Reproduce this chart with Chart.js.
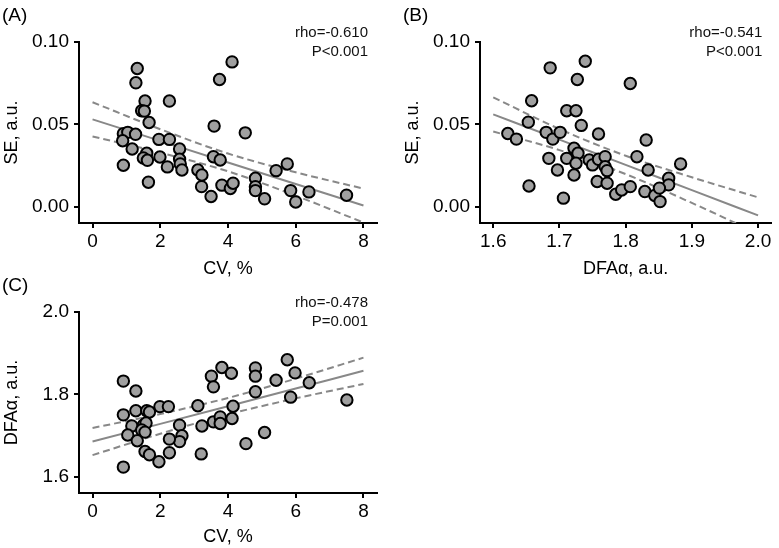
<!DOCTYPE html>
<html><head><meta charset="utf-8">
<script src="https://cdn.jsdelivr.net/npm/chart.js@4/dist/chart.umd.min.js"></script>
<style>
html,body{margin:0;padding:0;background:#fff;}
#wrap{position:relative;width:779px;height:548px;background:#fff;}
canvas{position:absolute;left:0;top:0;}
</style></head><body>
<div id="wrap">
<canvas id="cA" width="779" height="548" style="width:779px;height:548px"></canvas>
<canvas id="cB" width="779" height="548" style="width:779px;height:548px"></canvas>
<canvas id="cC" width="779" height="548" style="width:779px;height:548px"></canvas>
</div>
<script>
// ---- Panel A: SE vs CV ----
const cvA = [1.32,1.28,1.55,1.45,1.53,1.67,2.27,0.91,1.04,1.27,0.89,1.17,0.91,1.60,1.50,1.62,1.65,1.96,2.27,1.99,2.21,2.57,2.57,2.59,2.64,3.59,3.57,3.77,3.11,3.23,3.22,3.50,3.82,3.75,4.12,4.51,5.75,5.42,4.81,4.81,4.81,5.08,4.07,4.15,5.85,6.00,6.39,7.50];
const seA = [0.0839,0.0752,0.0641,0.0582,0.0580,0.0511,0.0641,0.0443,0.0451,0.0439,0.0400,0.0350,0.0251,0.0324,0.0295,0.0281,0.0148,0.0408,0.0408,0.0301,0.0241,0.0350,0.0287,0.0259,0.0222,0.0489,0.0303,0.0283,0.0222,0.0192,0.0121,0.0061,0.0130,0.0772,0.0879,0.0448,0.0259,0.0218,0.0172,0.0121,0.0097,0.0047,0.0110,0.0142,0.0097,0.0028,0.0089,0.0069];
const fitXA = [0,2,4,6,8];
const fitA = [0.0530,0.0399,0.0268,0.0137,0.0006];
const upA = [0.0634,0.0470,0.0322,0.0208,0.0109];
const loA = [0.0426,0.0328,0.0214,0.0066,-0.0097];
const statsA = ['rho=-0.610','P<0.001'];

// ---- Panel B: SE vs DFAα ----
const dfaB = [1.686,1.739,1.727,1.807,1.658,1.711,1.725,1.653,1.733,1.622,1.635,1.680,1.690,1.701,1.759,1.684,1.697,1.654,1.706,1.711,1.722,1.728,1.725,1.722,1.745,1.750,1.759,1.769,1.769,1.772,1.757,1.772,1.785,1.794,1.807,1.831,1.817,1.834,1.883,1.865,1.865,1.829,1.844,1.851,1.852];
const seB = [0.0843,0.0883,0.0772,0.0748,0.0643,0.0582,0.0582,0.0513,0.0493,0.0444,0.0410,0.0451,0.0410,0.0451,0.0441,0.0293,0.0222,0.0125,0.0051,0.0293,0.0354,0.0324,0.0263,0.0192,0.0283,0.0253,0.0287,0.0303,0.0242,0.0218,0.0152,0.0142,0.0075,0.0101,0.0121,0.0404,0.0303,0.0222,0.0259,0.0172,0.0132,0.0091,0.0067,0.0112,0.0030];
const fitXB = [1.6,1.7,1.8,1.9,2.0];
const fitB = [0.0560,0.0407,0.0253,0.0100,-0.0054];
const upB = [0.0664,0.0471,0.0309,0.0178,0.0056];
const loB = [0.0456,0.0343,0.0197,0.0022,-0.0164];
const statsB = ['rho=-0.541','P<0.001'];

// ---- Panel C: DFAα vs CV ----
const cvC = [0.91,1.28,0.91,1.28,1.60,1.68,1.99,2.24,1.16,1.50,1.58,1.45,1.55,1.04,1.32,1.55,1.68,1.96,0.91,2.57,2.64,2.57,2.27,2.27,3.11,3.23,3.21,3.51,3.57,3.82,4.10,3.57,3.77,3.77,4.12,4.15,4.53,4.81,4.81,4.81,5.08,5.42,5.75,5.98,5.85,6.40,7.51];
const dfaC = [1.832,1.808,1.750,1.760,1.760,1.757,1.770,1.770,1.723,1.725,1.730,1.713,1.708,1.701,1.687,1.661,1.653,1.636,1.623,1.725,1.699,1.685,1.691,1.658,1.772,1.723,1.655,1.844,1.818,1.865,1.851,1.733,1.745,1.729,1.741,1.771,1.680,1.864,1.844,1.806,1.707,1.834,1.884,1.852,1.793,1.828,1.786];
const fitXC = [0,2,4,6,8];
const fitC = [1.685,1.728,1.771,1.814,1.857];
const upC = [1.718,1.752,1.791,1.838,1.889];
const loC = [1.652,1.704,1.751,1.790,1.825];
const statsC = ['rho=-0.478','P=0.001'];

// ---- ticks ----
const xTicksCV = [0,2,4,6,8];
const xLabelsCV = ['0','2','4','6','8'];
const xTicksDFA = [1.6,1.7,1.8,1.9,2.0];
const xLabelsDFA = ['1.6','1.7','1.8','1.9','2.0'];
const yTicksSE = [0,0.05,0.10];
const yLabelsSE = ['0.00','0.05','0.10'];
const yTicksDFA = [1.6,1.8,2.0];
const yLabelsDFA = ['1.6','1.8','2.0'];

const FONT = '"Liberation Sans", Arial, Helvetica, sans-serif';
const LINE = '#888888';

function axis(min, max, ticks, labels, title, size, isY, titlePad) {
  return {
    type: 'linear', min, max,
    afterBuildTicks: s => { s.ticks = ticks.map(v => ({value: v})); },
    afterFit: s => { if (isY) s.width = size; else s.height = size; },
    ticks: { callback: (v, i) => labels[i], font: {family: FONT, size: 19}, color: '#000',
             padding: isY ? 5 : 2, autoSkip: false, maxRotation: 0, minRotation: 0 },
    grid: { display: true, drawOnChartArea: false, drawTicks: true, tickLength: 5, color: '#000', lineWidth: 2 },
    border: { display: true, color: '#000', width: 2 },
    title: { display: true, text: title, font: {family: FONT, size: 18}, color: '#000', padding: titlePad }
  };
}

function pts(xs, ys) { return xs.map((x, i) => ({x: x, y: ys[i]})); }

function panel(id, label, stats, xs, ys, fx, fit, up, lo, xAxis, yAxis, padding) {
  const txt = {
    id: 'txt',
    afterDraw(chart) {
      const {ctx, chartArea: a} = chart;
      ctx.save();
      ctx.fillStyle = '#000';
      ctx.font = '19px ' + FONT;
      ctx.textAlign = 'left'; ctx.textBaseline = 'middle';
      ctx.fillText(label, a.left - 77, a.top - 26);
      ctx.font = '15px ' + FONT;
      ctx.textAlign = 'right';
      ctx.fillStyle = '#111';
      ctx.fillText(stats[0], a.right - 9, a.top - 9);
      ctx.fillText(stats[1], a.right - 9, a.top + 10);
      ctx.restore();
    }
  };
  const lineDs = (arr, dash) => ({
    data: pts(fx, arr), showLine: true, borderColor: LINE, borderWidth: 2, borderDash: dash,
    pointRadius: 0, pointHoverRadius: 0, fill: false, cubicInterpolationMode: 'monotone', order: 1
  });
  return new Chart(document.getElementById(id), {
    type: 'scatter',
    data: { datasets: [
      { data: pts(xs, ys), backgroundColor: '#a0a0a0', borderColor: '#000', borderWidth: 2,
        pointRadius: 5.7, pointHoverRadius: 5.7, order: 0 },
      lineDs(fit, []), lineDs(up, [7, 4]), lineDs(lo, [7, 4])
    ]},
    options: {
      responsive: false, animation: false, events: [],
      layout: { padding },
      plugins: { legend: {display: false}, tooltip: {enabled: false}, title: {display: false} },
      scales: { x: xAxis, y: yAxis }
    },
    plugins: [txt]
  });
}

panel('cA', '(A)', statsA, cvA, seA, fitXA, fitA, upA, loA,
  axis(-0.4, 8.4, xTicksCV, xLabelsCV, 'CV, %', 57, false, {top: 0, bottom: 0}),
  axis(-0.01, 0.10, yTicksSE, yLabelsSE, 'SE, a.u.', 78, true, {top: 0, bottom: 0}),
  {left: 1, top: 42, right: 402, bottom: 268});

panel('cB', '(B)', statsB, dfaB, seB, fitXB, fitB, upB, loB,
  axis(1.58, 2.02, xTicksDFA, xLabelsDFA, 'DFA\u03b1, a.u.', 57, false, {top: 0, bottom: 0}),
  axis(-0.01, 0.10, yTicksSE, yLabelsSE, 'SE, a.u.', 78, true, {top: 0, bottom: 0}),
  {left: 402, top: 42, right: 1, bottom: 268});

panel('cC', '(C)', statsC, cvC, dfaC, fitXC, fitC, upC, loC,
  axis(-0.4, 8.4, xTicksCV, xLabelsCV, 'CV, %', 55, false, {top: 0, bottom: 0}),
  axis(1.56, 2.0, yTicksDFA, yLabelsDFA, 'DFA\u03b1, a.u.', 78, true, {top: 0, bottom: 0}),
  {left: 1, top: 312, right: 402, bottom: 0});
</script>
</body></html>
